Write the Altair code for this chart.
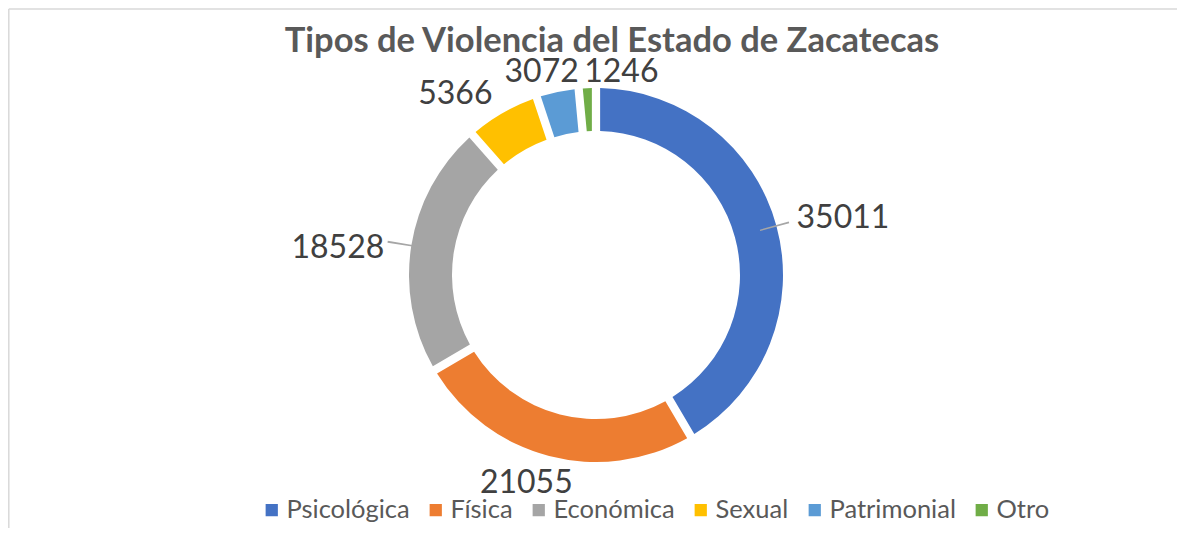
import altair as alt
import pandas as pd

categories = ["Psicológica", "Física", "Económica", "Sexual", "Patrimonial", "Otro"]
values = [35011, 21055, 18528, 5366, 3072, 1246]
colors = ["#4472C4", "#ED7D31", "#A5A5A5", "#FFC000", "#5B9BD5", "#70AD47"]

df = pd.DataFrame({"tipo": categories, "valor": values, "orden": list(range(len(categories)))})

W, H = 1162, 506
sc = alt.Scale(domain=[0, sum(values)])

base = (
    alt.Chart(df)
    .transform_window(cum="sum(valor)", sort=[alt.SortField("orden")])
    .transform_calculate(start="datum.cum - datum.valor", mid="datum.cum - datum.valor / 2")
)

color = alt.Color(
    "tipo:N",
    scale=alt.Scale(domain=categories, range=colors),
    legend=alt.Legend(
        orient="none", legendX=244, legendY=475, direction="horizontal", title=None,
        symbolType="square", symbolSize=150, symbolStrokeWidth=0,
        labelFont="Lato", labelFontSize=25.5, labelColor="#595959",
        columnPadding=13, labelOffset=2,
    ),
)

arcs = base.mark_arc(innerRadius=144, outerRadius=187, padAngle=0.035).encode(
    theta=alt.Theta("start:Q", scale=sc), theta2="cum:Q", color=color
)

def leader(name, r0, r1):
    return (
        base.transform_filter(alt.datum.tipo == name)
        .transform_calculate(a="datum.mid - 60", b="datum.mid + 60")
        .mark_arc(innerRadius=r0, outerRadius=r1, color="#A6A6A6")
        .encode(theta=alt.Theta("a:Q", scale=sc), theta2="b:Q")
    )

leaders = [leader("Psicológica", 170, 200), leader("Económica", 186, 211)]

offsets = {
    "Psicológica": (25, 3),
    "Física": (-12, -15),
    "Económica": (-31, 9),
    "Sexual": (-26, 18),
    "Patrimonial": (-7, 22),
    "Otro": (36, 27),
}
texts = [
    base.transform_filter(alt.datum.tipo == k)
    .mark_text(radius=230, dx=dx, dy=dy, font="Lato", fontSize=32, color="#404040",
               align="center", baseline="middle")
    .encode(theta=alt.Theta("mid:Q", scale=sc), text=alt.Text("valor:Q", format="d"))
    for k, (dx, dy) in offsets.items()
]

frame_df = pd.DataFrame({"k": [0]})
border_left = alt.Chart(frame_df).mark_rule(color="#D9D9D9", strokeWidth=1.5).encode(
    x=alt.value(-6.2), y=alt.value(-13), y2=alt.value(H + 20)
)
border_top = alt.Chart(frame_df).mark_rule(color="#D9D9D9", strokeWidth=1.5).encode(
    x=alt.value(-6.2), x2=alt.value(W + 30), y=alt.value(-13)
)

chart = (
    alt.layer(arcs, *leaders, *texts, border_left, border_top)
    .properties(
        width=W, height=H,
        autosize=alt.AutoSizeParams(type="none"),
        padding={"left": 7, "top": 14, "right": 0, "bottom": 0},
        title=alt.TitleParams(
            "Tipos de Violencia del Estado de Zacatecas",
            font="Lato", fontSize=34.5, fontWeight="bold", color="#595959",
            anchor="middle", offset=-48, dy=30, dx=16, baseline="alphabetic",
        ),
    )
    .configure_view(stroke="transparent")
)

chart.save("out.html", embed_options={"renderer": "svg", "actions": False})
